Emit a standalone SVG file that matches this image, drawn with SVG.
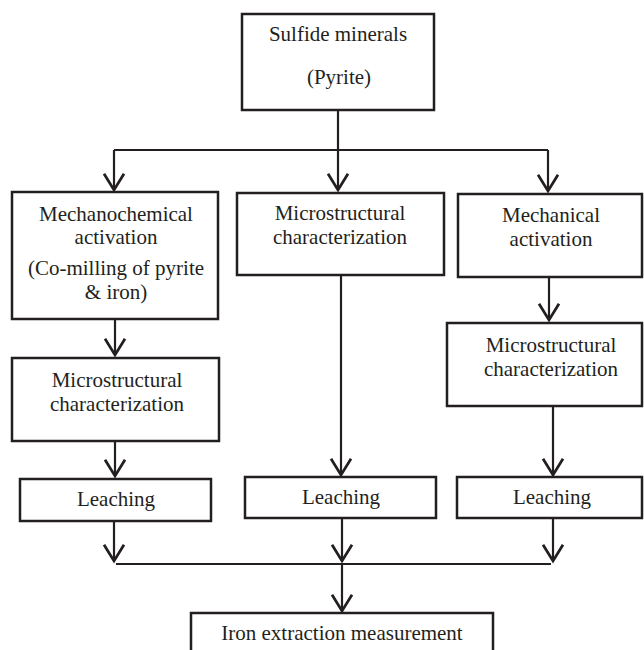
<svg xmlns="http://www.w3.org/2000/svg" width="644" height="650" viewBox="0 0 644 650">
<style>
.box{fill:#fff;stroke:#231f20;stroke-width:2.5}
.t{font-family:"Liberation Serif","Times New Roman",serif;font-size:21px;fill:#231f20;text-anchor:middle}
.c{fill:none;stroke:#231f20;stroke-width:2.2}
</style>
<defs>
<marker id="ah" markerUnits="userSpaceOnUse" markerWidth="30" markerHeight="30" refX="0" refY="0" viewBox="-16 -12 20 24" orient="auto">
<path d="M-13,-8 L0,0 L-13,8" fill="none" stroke="#231f20" stroke-width="2.2"/>
</marker>
</defs>
<rect width="644" height="650" fill="#fff"/>
<g id="connectors">
<path class="c" d="M338,110 V190" marker-end="url(#ah)"/>
<path class="c" d="M114,150 H548"/>
<path class="c" d="M114,150 V190" marker-end="url(#ah)"/>
<path class="c" d="M548,150 V191" marker-end="url(#ah)"/>
<path class="c" d="M115,319 V355" marker-end="url(#ah)"/>
<path class="c" d="M115,441 V476" marker-end="url(#ah)"/>
<path class="c" d="M341,275 V475" marker-end="url(#ah)"/>
<path class="c" d="M549,277 V320" marker-end="url(#ah)"/>
<path class="c" d="M553,406 V475" marker-end="url(#ah)"/>
<path class="c" d="M114,521 V561" marker-end="url(#ah)"/>
<path class="c" d="M342,518 V561" marker-end="url(#ah)"/>
<path class="c" d="M553,518 V561" marker-end="url(#ah)"/>
<path class="c" d="M116,564 H551"/>
<path class="c" d="M342,564 V611" marker-end="url(#ah)"/>
</g>
<g id="sulfide">
<rect class="box" x="242" y="14" width="192" height="96"/>
<text class="t" x="338" y="41">Sulfide minerals</text>
<text class="t" x="339" y="84">(Pyrite)</text>
</g>
<g id="mechanochemical">
<rect class="box" x="12" y="192" width="206" height="127"/>
<text class="t" x="116" y="221">Mechanochemical</text>
<text class="t" x="116" y="244">activation</text>
<text class="t" x="116" y="275">(Co-milling of pyrite</text>
<text class="t" x="116" y="299">&amp; iron)</text>
</g>
<g id="micro-left">
<rect class="box" x="12" y="358" width="207" height="83"/>
<text class="t" x="117" y="387">Microstructural</text>
<text class="t" x="117" y="411">characterization</text>
</g>
<g id="leach-left">
<rect class="box" x="20" y="479" width="191" height="42"/>
<text class="t" x="116" y="506">Leaching</text>
</g>
<g id="micro-mid">
<rect class="box" x="237" y="193" width="207" height="82"/>
<text class="t" x="340" y="220">Microstructural</text>
<text class="t" x="340" y="244">characterization</text>
</g>
<g id="leach-mid">
<rect class="box" x="245" y="477" width="191" height="41"/>
<text class="t" x="341" y="504">Leaching</text>
</g>
<g id="mechanical">
<rect class="box" x="458" y="194" width="184" height="83"/>
<text class="t" x="551" y="222">Mechanical</text>
<text class="t" x="551" y="246">activation</text>
</g>
<g id="micro-right">
<rect class="box" x="447" y="323" width="195" height="83"/>
<text class="t" x="551" y="352">Microstructural</text>
<text class="t" x="551" y="376">characterization</text>
</g>
<g id="leach-right">
<rect class="box" x="457" y="477" width="185" height="41"/>
<text class="t" x="552" y="504">Leaching</text>
</g>
<g id="iron">
<rect class="box" x="191" y="613" width="302" height="50"/>
<text class="t" x="342" y="640">Iron extraction measurement</text>
</g>
</svg>
